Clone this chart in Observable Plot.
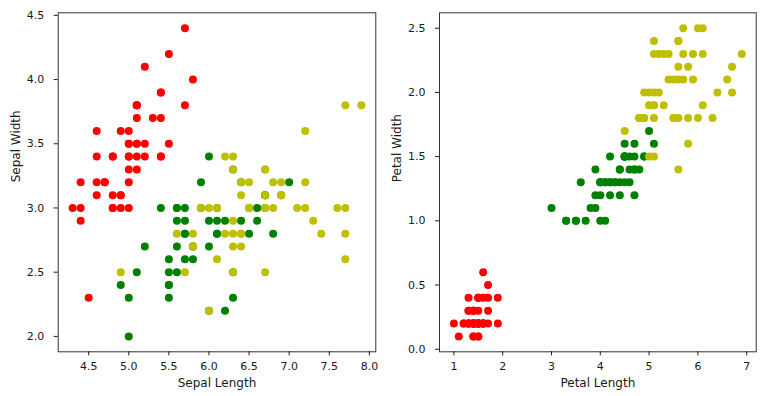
<!DOCTYPE html>
<html><head><meta charset="utf-8">
<script src="https://cdn.jsdelivr.net/npm/d3@7"></script>
<script src="https://cdn.jsdelivr.net/npm/@observablehq/plot@0.6"></script>
<style>
body{margin:0;background:#fff}
#c{position:relative;width:765px;height:396px;overflow:hidden}
#c svg{position:absolute;top:0}
</style>
</head><body><div id="c"></div>
<script>
const speciesNames = ["setosa", "versicolor", "virginica"];
const speciesColors = ["#ff0000", "#008000", "#bfbf00"];

const setosaSepalLength = [5.1,4.9,4.7,4.6,5.0,5.4,4.6,5.0,4.4,4.9,5.4,4.8,4.8,4.3,5.8,5.7,5.4,5.1,5.7,5.1,5.4,5.1,4.6,5.1,4.8,5.0,5.0,5.2,5.2,4.7,4.8,5.4,5.2,5.5,4.9,5.0,5.5,4.9,4.4,5.1,5.0,4.5,4.4,5.0,5.1,4.8,5.1,4.6,5.3,5.0];
const setosaSepalWidth = [3.5,3.0,3.2,3.1,3.6,3.9,3.4,3.4,2.9,3.1,3.7,3.4,3.0,3.0,4.0,4.4,3.9,3.5,3.8,3.8,3.4,3.7,3.6,3.3,3.4,3.0,3.4,3.5,3.4,3.2,3.1,3.4,4.1,4.2,3.1,3.2,3.5,3.6,3.0,3.4,3.5,2.3,3.2,3.5,3.8,3.0,3.8,3.2,3.7,3.3];
const setosaPetalLength = [1.4,1.4,1.3,1.5,1.4,1.7,1.4,1.5,1.4,1.5,1.5,1.6,1.4,1.1,1.2,1.5,1.3,1.4,1.7,1.5,1.7,1.5,1.0,1.7,1.9,1.6,1.6,1.5,1.4,1.6,1.6,1.5,1.5,1.4,1.5,1.2,1.3,1.4,1.3,1.5,1.3,1.3,1.3,1.6,1.9,1.4,1.6,1.4,1.5,1.4];
const setosaPetalWidth = [0.2,0.2,0.2,0.2,0.2,0.4,0.3,0.2,0.2,0.1,0.2,0.2,0.1,0.1,0.2,0.4,0.4,0.3,0.3,0.3,0.2,0.4,0.2,0.5,0.2,0.2,0.4,0.2,0.2,0.2,0.2,0.4,0.1,0.2,0.2,0.2,0.2,0.1,0.2,0.2,0.3,0.3,0.2,0.6,0.4,0.3,0.2,0.2,0.2,0.2];

const versicolorSepalLength = [7.0,6.4,6.9,5.5,6.5,5.7,6.3,4.9,6.6,5.2,5.0,5.9,6.0,6.1,5.6,6.7,5.6,5.8,6.2,5.6,5.9,6.1,6.3,6.1,6.4,6.6,6.8,6.7,6.0,5.7,5.5,5.5,5.8,6.0,5.4,6.0,6.7,6.3,5.6,5.5,5.5,6.1,5.8,5.0,5.6,5.7,5.7,6.2,5.1,5.7];
const versicolorSepalWidth = [3.2,3.2,3.1,2.3,2.8,2.8,3.3,2.4,2.9,2.7,2.0,3.0,2.2,2.9,2.9,3.1,3.0,2.7,2.2,2.5,3.2,2.8,2.5,2.8,2.9,3.0,2.8,3.0,2.9,2.6,2.4,2.4,2.7,2.7,3.0,3.4,3.1,2.3,3.0,2.5,2.6,3.0,2.6,2.3,2.7,3.0,2.9,2.9,2.5,2.8];
const versicolorPetalLength = [4.7,4.5,4.9,4.0,4.6,4.5,4.7,3.3,4.6,3.9,3.5,4.2,4.0,4.7,3.6,4.4,4.5,4.1,4.5,3.9,4.8,4.0,4.9,4.7,4.3,4.4,4.8,5.0,4.5,3.5,3.8,3.7,3.9,5.1,4.5,4.5,4.7,4.4,4.1,4.0,4.4,4.6,4.0,3.3,4.2,4.2,4.2,4.3,3.0,4.1];
const versicolorPetalWidth = [1.4,1.5,1.5,1.3,1.5,1.3,1.6,1.0,1.3,1.4,1.0,1.5,1.0,1.4,1.3,1.4,1.5,1.0,1.5,1.1,1.8,1.3,1.5,1.2,1.3,1.4,1.4,1.7,1.5,1.0,1.1,1.0,1.2,1.6,1.5,1.6,1.5,1.3,1.3,1.3,1.2,1.4,1.2,1.0,1.3,1.2,1.3,1.3,1.1,1.3];

const virginicaSepalLength = [6.3,5.8,7.1,6.3,6.5,7.6,4.9,7.3,6.7,7.2,6.5,6.4,6.8,5.7,5.8,6.4,6.5,7.7,7.7,6.0,6.9,5.6,7.7,6.3,6.7,7.2,6.2,6.1,6.4,7.2,7.4,7.9,6.4,6.3,6.1,7.7,6.3,6.4,6.0,6.9,6.7,6.9,5.8,6.8,6.7,6.7,6.3,6.5,6.2,5.9];
const virginicaSepalWidth = [3.3,2.7,3.0,2.9,3.0,3.0,2.5,2.9,2.5,3.6,3.2,2.7,3.0,2.5,2.8,3.2,3.0,3.8,2.6,2.2,3.2,2.8,2.8,2.7,3.3,3.2,2.8,3.0,2.8,3.0,2.8,3.8,2.8,2.8,2.6,3.0,3.4,3.1,3.0,3.1,3.1,3.1,2.7,3.2,3.3,3.0,2.5,3.0,3.4,3.0];
const virginicaPetalLength = [6.0,5.1,5.9,5.6,5.8,6.6,4.5,6.3,5.8,6.1,5.1,5.3,5.5,5.0,5.1,5.3,5.5,6.7,6.9,5.0,5.7,4.9,6.7,4.9,5.7,6.0,4.8,4.9,5.6,5.8,6.1,6.4,5.6,5.1,5.6,6.1,5.6,5.5,4.8,5.4,5.6,5.1,5.1,5.9,5.7,5.2,5.0,5.2,5.4,5.1];
const virginicaPetalWidth = [2.5,1.9,2.1,1.8,2.2,2.1,1.7,1.8,1.8,2.5,2.0,1.9,2.1,2.0,2.4,2.3,1.8,2.2,2.3,1.5,2.3,2.0,2.0,1.8,2.1,1.8,1.8,1.8,2.1,1.6,1.9,2.0,2.2,1.5,1.4,2.3,2.4,1.8,1.8,2.1,2.4,2.3,1.9,2.3,2.5,2.3,1.9,2.0,2.3,1.8];

const sepalLengthTicks = [4.5, 5.0, 5.5, 6.0, 6.5, 7.0, 7.5, 8.0];
const sepalWidthTicks = [2.0, 2.5, 3.0, 3.5, 4.0, 4.5];
const petalLengthTicks = [1, 2, 3, 4, 5, 6, 7];
const petalWidthTicks = [0.0, 0.5, 1.0, 1.5, 2.0, 2.5];

const groups = [
  ["setosa", setosaSepalLength, setosaSepalWidth, setosaPetalLength, setosaPetalWidth],
  ["versicolor", versicolorSepalLength, versicolorSepalWidth, versicolorPetalLength, versicolorPetalWidth],
  ["virginica", virginicaSepalLength, virginicaSepalWidth, virginicaPetalLength, virginicaPetalWidth]
];
const rows = [];
for (const [sp, sl, sw, pl, pw] of groups) {
  sl.forEach((v, i) => rows.push({species: sp, sl: v, sw: sw[i], pl: pl[i], pw: pw[i]}));
}

function pad(vals) {
  const lo = d3.min(vals), hi = d3.max(vals), m = (hi - lo) * 0.05;
  return [lo - m, hi + m];
}

const ink = "#1a1a1a";
function panel(o) {
  return Plot.plot({
    width: o.width, height: 396,
    marginLeft: o.ml, marginRight: o.mr, marginTop: 12.3, marginBottom: 44.7,
    style: {fontFamily: "DejaVu Sans", fontSize: "11px", color: ink, background: "white"},
    x: {domain: pad(rows.map(d => d[o.x])), ticks: o.xTicks, tickFormat: o.xFmt},
    y: {domain: pad(rows.map(d => d[o.y])), ticks: o.yTicks, tickFormat: o.yFmt},
    color: {domain: speciesNames, range: speciesColors},
    marks: [
      Plot.dot(rows, {x: o.x, y: o.y, fill: "species", r: 4}),
      Plot.frame({stroke: "#333", strokeWidth: 1}),
      Plot.axisX({ticks: o.xTicks, tickFormat: o.xFmt, tickSize: 4, tickPadding: 6, label: null}),
      Plot.axisY({ticks: o.yTicks, tickFormat: o.yFmt, tickSize: 4, tickPadding: 10, label: null}),
      Plot.text([o.xLabel], {frameAnchor: "bottom", dy: 31, text: d => d, lineAnchor: "middle", fontSize: 12, fill: ink}),
      Plot.text([o.yLabel], {frameAnchor: "left", dx: -42.5, text: d => d, rotate: -90, lineAnchor: "middle", fontSize: 12, fill: ink})
    ]
  });
}

const left = panel({width: 383, ml: 57.7, mr: 7.7, x: "sl", y: "sw",
  xTicks: sepalLengthTicks, yTicks: sepalWidthTicks, xFmt: d3.format(".1f"), yFmt: d3.format(".1f"),
  xLabel: "Sepal Length", yLabel: "Sepal Width"});
const right = panel({width: 382, ml: 56, mr: 9.3, x: "pl", y: "pw",
  xTicks: petalLengthTicks, yTicks: petalWidthTicks, xFmt: d3.format("d"), yFmt: d3.format(".1f"),
  xLabel: "Petal Length", yLabel: "Petal Width"});
left.style.left = "0px";
right.style.left = "383px";
document.getElementById("c").append(left, right);
</script>
</body></html>
